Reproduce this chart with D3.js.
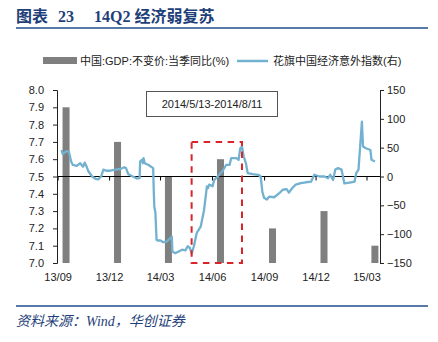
<!DOCTYPE html>
<html><head><meta charset="utf-8">
<script src="https://cdn.jsdelivr.net/npm/d3@7"></script>
<style>body{margin:0;background:#fff}svg{display:block}</style>
</head><body>
<svg id="c" width="438" height="342"></svg>
<script>
// ---- data ----
const xTickLabels = ["13/09","13/12","14/03","14/06","14/09","14/12","15/03"];
const xTickDates = ["2013-09-01","2013-12-01","2014-03-01","2014-06-01","2014-09-01","2014-12-01","2015-03-01"];
const gdpDates = ["2013-09-15","2013-12-15","2014-03-15","2014-06-15","2014-09-15","2014-12-15","2015-03-15"];
const gdpValues = [7.9, 7.7, 7.5, 7.6, 7.2, 7.3, 7.1];
const leftTicks = [7.0,7.1,7.2,7.3,7.4,7.5,7.6,7.7,7.8,7.9,8.0];
const rightTicks = [-150,-100,-50,0,50,100,150];
const citiDates = ["2013-09-07","2013-09-09","2013-09-16","2013-09-20","2013-09-24","2013-09-27","2013-10-04","2013-10-10","2013-10-15","2013-10-18","2013-10-21","2013-10-24","2013-10-31","2013-11-06","2013-11-11","2013-11-16","2013-11-20","2013-11-25","2013-12-02","2013-12-11","2013-12-20","2013-12-27","2013-12-30","2014-01-03","2014-01-11","2014-01-18","2014-01-23","2014-01-24","2014-01-27","2014-01-29","2014-01-30","2014-02-01","2014-02-08","2014-02-16","2014-02-17","2014-02-18","2014-02-20","2014-02-22","2014-02-24","2014-03-01","2014-03-06","2014-03-12","2014-03-18","2014-03-21","2014-03-22","2014-03-27","2014-04-02","2014-04-08","2014-04-14","2014-04-18","2014-04-22","2014-04-25","2014-04-29","2014-05-04","2014-05-11","2014-05-17","2014-05-22","2014-05-24","2014-05-26","2014-06-01","2014-06-04","2014-06-10","2014-06-19","2014-06-25","2014-07-01","2014-07-04","2014-07-13","2014-07-17","2014-07-20","2014-07-23","2014-07-26","2014-07-30","2014-08-02","2014-08-11","2014-08-21","2014-08-25","2014-08-28","2014-08-31","2014-09-05","2014-09-09","2014-09-18","2014-09-27","2014-10-03","2014-10-10","2014-10-14","2014-10-20","2014-10-26","2014-11-04","2014-11-13","2014-11-22","2014-11-28","2014-12-07","2014-12-16","2014-12-22","2014-12-26","2014-12-31","2015-01-04","2015-01-09","2015-01-15","2015-01-20","2015-02-01","2015-02-07","2015-02-10","2015-02-14","2015-02-19","2015-02-20","2015-02-22","2015-02-27","2015-03-07","2015-03-09","2015-03-15"];
const citiValues = [46,39,44,43,26,20,18.5,23,17,24,18,10,0,-4,-5,0,12,10,10,12,13,16,14.5,4,0,-3.5,-3,26,29,23,32,23,20,14.5,-23,-52,-63,-110,-111,-111,-114,-113,-107,-104,-130,-133,-130,-127,-128,-121,-124,-134,-121,-98,-87,-58,-17,-20,-14,-17,-6,0,10,20,20,32,32,29,49,52,35,23,6,4,3,0,-26,-37,-40,-35,-36,-29,-23,-22,-28,-20,-14,-11.5,-10,-9,3,0,0,-3,3,-6,12,14.5,12,-12,-10,-9,6,12,81,95,52,49,46,29,26];
const boxStart = "2014-04-25", boxEnd = "2014-07-23", boxTop = 7.7, boxBottom = 7.0;
const annotation = "2014/5/13-2014/8/11";
const seriesNames = ["中国:GDP:不变价:当季同比(%)", "花旗中国经济意外指数(右)"];

// ---- chart ----
const svg = d3.select("#c");
const parse = d3.timeParse("%Y-%m-%d");
const L = 57, R = 380, T = 90, B = 263;
const x = d3.scaleTime().domain([parse("2013-08-30"), parse("2015-03-24")]).range([L, R]);
const yL = d3.scaleLinear().domain([7.0, 8.0]).range([B, T]);
const yR = d3.scaleLinear().domain([-150, 150]).range([B, T]);
const navy = "#1f3f7a";
const fontSans = "'Liberation Sans', Arial, 'Noto Sans CJK SC', sans-serif";
const fontSerif = "'Liberation Serif','Noto Sans CJK SC',serif";

// title
[["图表", 16], ["23", 58], ["14Q2 经济弱复苏", 94]].forEach(([t, px]) => {
  svg.append("text").attr("x", px).attr("y", 22)
    .attr("font-family", fontSerif).attr("font-weight", "bold")
    .attr("font-size", 16).attr("fill", navy).text(t);
});
svg.append("line").attr("x1", 16).attr("x2", 428).attr("y1", 28).attr("y2", 28)
  .attr("stroke", "#1f4e8c").attr("stroke-width", 1.6);

// legend
svg.append("rect").attr("x", 43).attr("y", 57).attr("width", 34).attr("height", 7).attr("fill", "#7f7f7f");
svg.append("text").attr("x", 80).attr("y", 65).attr("font-family", fontSans).attr("font-size", 11)
  .attr("fill", "#222").text(seriesNames[0]);
svg.append("line").attr("x1", 237).attr("x2", 268).attr("y1", 61).attr("y2", 61)
  .attr("stroke", "#72b1cf").attr("stroke-width", 2.5);
svg.append("text").attr("x", 273).attr("y", 65).attr("font-family", fontSans).attr("font-size", 11)
  .attr("fill", "#222").text(seriesNames[1]);

// bars
const bw = 7;
svg.append("g").selectAll("rect").data(gdpValues).join("rect")
  .attr("x", (d, i) => x(parse(gdpDates[i])) - bw / 2)
  .attr("y", d => yL(d))
  .attr("width", bw)
  .attr("height", d => yL(7.0) - yL(d))
  .attr("fill", "#7f7f7f");

// zero line with ticks
const zx = svg.append("g").attr("transform", `translate(0,${yR(0)})`);
zx.append("line").attr("x1", L).attr("x2", R).attr("stroke", "#000").attr("stroke-width", 1);
zx.selectAll("line.t").data(xTickDates).join("line").attr("class", "t")
  .attr("x1", d => x(parse(d))).attr("x2", d => x(parse(d))).attr("y1", 0).attr("y2", 4)
  .attr("stroke", "#000");

// x labels
svg.append("g").selectAll("text").data(xTickLabels).join("text")
  .attr("x", (d, i) => x(parse(xTickDates[i])))
  .attr("y", 281).attr("text-anchor", "middle")
  .attr("font-family", fontSans).attr("font-size", 11).attr("fill", "#222").text(d => d);

// left axis
const gl = svg.append("g").attr("transform", `translate(${L},0)`)
  .call(d3.axisLeft(yL).tickValues(leftTicks).tickFormat(d3.format(".1f")).tickSize(4).tickPadding(9));
gl.select(".domain").attr("stroke", "#222");
gl.selectAll(".tick line").attr("stroke", "#222");
gl.selectAll("text").attr("font-family", fontSans).attr("font-size", 11).attr("fill", "#222");

// right axis
const gr = svg.append("g").attr("transform", `translate(${R},0)`)
  .call(d3.axisRight(yR).tickValues(rightTicks).tickSize(4).tickPadding(3));
gr.select(".domain").attr("stroke", "#222");
gr.selectAll(".tick line").attr("stroke", "#222");
gr.selectAll("text").attr("font-family", fontSans).attr("font-size", 11).attr("fill", "#222");

// line
const pts = citiValues.map((v, i) => [parse(citiDates[i]), v]);
svg.append("path").datum(pts)
  .attr("d", d3.line().x(d => x(d[0])).y(d => yR(d[1])))
  .attr("fill", "none").attr("stroke", "#72b1cf").attr("stroke-width", 2.3).attr("stroke-linejoin", "round");

// red dashed box
svg.append("rect")
  .attr("x", x(parse(boxStart))).attr("y", yL(boxTop))
  .attr("width", x(parse(boxEnd)) - x(parse(boxStart)))
  .attr("height", yL(boxBottom) - yL(boxTop))
  .attr("fill", "none").attr("stroke", "#d9242a").attr("stroke-width", 2).attr("stroke-dasharray", "6.5,5.5");

// annotation box
svg.append("rect").attr("x", 146.5).attr("y", 91.5).attr("width", 131).attr("height", 25)
  .attr("fill", "#fff").attr("stroke", "#555").attr("stroke-width", 1);
svg.append("text").attr("x", 212).attr("y", 108).attr("text-anchor", "middle")
  .attr("font-family", fontSans).attr("font-size", 11).attr("fill", "#222").text(annotation);

// footer
svg.append("line").attr("x1", 16).attr("x2", 428).attr("y1", 306).attr("y2", 306)
  .attr("stroke", "#1f4e8c").attr("stroke-width", 1.6);
svg.append("text").attr("x", 16).attr("y", 326)
  .attr("font-family", fontSerif).attr("font-style", "italic")
  .attr("font-size", 14).attr("fill", navy).text("资料来源：Wind，华创证券");
</script>
</body></html>
